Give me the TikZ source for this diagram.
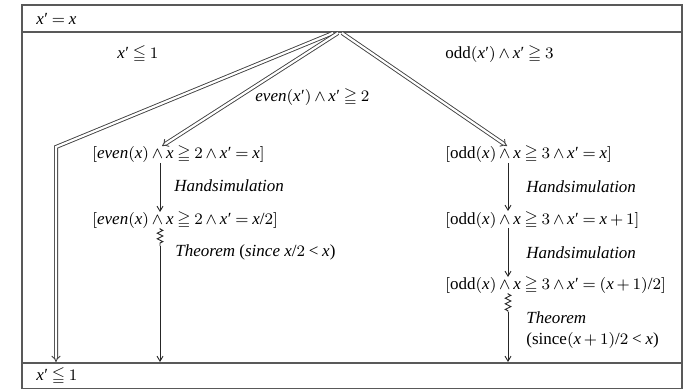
\documentclass[tikz,border=0pt]{standalone}
\usepackage{amssymb}
\usepackage{fontspec}
\setmainfont{Liberation Serif}
\usepackage[italic]{mathastext}
\usetikzlibrary{arrows.meta,decorations.pathmorphing}
\newcommand{\xpr}{x\mbox{\kern0.2pt′}}
\begin{document}
\begin{tikzpicture}[x=0.5pt,y=-0.5pt,
  frame/.style={draw=black!65,line width=0.6pt},
  txt/.style={anchor=west,inner sep=0pt,font=\fontsize{8.5}{10}\selectfont},
  dbl/.style={draw=black!75,double,double distance=1.1pt,line width=0.45pt,-{Implies[length=4pt,width=5.5pt]}},
  step1/.style={draw=black!85,line width=0.45pt,-{Straight Barb[length=2.5pt,width=3pt]}},
  squig/.style={draw=black!85,line width=0.45pt,decorate,decoration={zigzag,amplitude=1.4pt,segment length=2.8pt,pre length=0.5pt,post length=0.5pt}}]
\useasboundingbox (0,0) rectangle (688,389);
\thickmuskip=4mu plus 1mu\medmuskip=3mu
% frame
\draw[frame] (22,5) rectangle (682,389);
\draw[frame] (22,32) -- (682,32);
\draw[frame] (22,363) -- (682,363);
% texts
\node[txt] (hd) at (36,19) {$\xpr=x$};
\node[txt] (ft) at (36,376) {$\xpr\leqq 1$};
\node[txt] (la) at (117,54) {$\xpr\leqq 1$};
\node[txt] (lb) at (255,97) {$\mathit{even}(\xpr)\wedge \xpr\geqq 2$};
\node[txt] (lc) at (445,54) {odd$(\xpr)\wedge \xpr\geqq 3$};
\node[txt] (L1) at (92,154) {$[\mathit{even}(x)\wedge x\geqq 2\wedge \xpr=x]$};
\node[txt] (Lh) at (174,186) {\textit{Handsimulation}};
\node[txt] (L2) at (92,220) {$[\mathit{even}(x)\wedge x\geqq 2\wedge \xpr=x/2]$};
\node[txt] (Lt) at (175,252) {\textit{Theorem} (\textit{since} $x/2<x$)};
\node[txt] (R1) at (445,154) {$[\mathrm{odd}(x)\wedge x\geqq 3\wedge \xpr=x]$};
\node[txt] (Rh1) at (526,187) {\textit{Handsimulation}};
\node[txt] (R2) at (445,220) {$[\mathrm{odd}(x)\wedge x\geqq 3\wedge \xpr=x+1]$};
\node[txt] (Rh2) at (526,253) {\textit{Handsimulation}};
\node[txt] (R3) at (445,285) {$[\mathrm{odd}(x)\wedge x\geqq 3\wedge \xpr=(x+1)/2]$};
\node[txt] (Rt) at (526,318) {\textit{Theorem}};
\node[txt] (Rs) at (526,340) {(since$(x+1)/2<x$)};
% coordinates
\coordinate (apA) at (333,33);
\coordinate (apB) at (338,33);
\coordinate (apC) at (342,33);
\coordinate (bend) at (56,147);
\coordinate (endA) at (56,362);
\coordinate (endB) at (162,146);
\coordinate (endC) at (507,146);
\coordinate (l1) at (160,163);
\coordinate (l2) at (160,212);
\coordinate (l3) at (160,228);
\coordinate (l4) at (160,246);
\coordinate (l5) at (160,362);
\coordinate (r1) at (508,163);
\coordinate (r2) at (508,211);
\coordinate (r3) at (508,228);
\coordinate (r4) at (508,277);
\coordinate (r5) at (508,293);
\coordinate (r6) at (508,312);
\coordinate (r7) at (508,362);
% double arrows
\draw[dbl] (apA) -- (bend) -- (endA);
\draw[dbl] (apB) -- (endB);
\draw[dbl] (apC) -- (endC);
% chains
\draw[step1] (l1) -- (l2);
\draw[squig] (l3) -- (l4);
\draw[step1] (l4) -- (l5);
\draw[step1] (r1) -- (r2);
\draw[step1] (r3) -- (r4);
\draw[squig] (r5) -- (r6);
\draw[step1] (r6) -- (r7);
\end{tikzpicture}
\end{document}
